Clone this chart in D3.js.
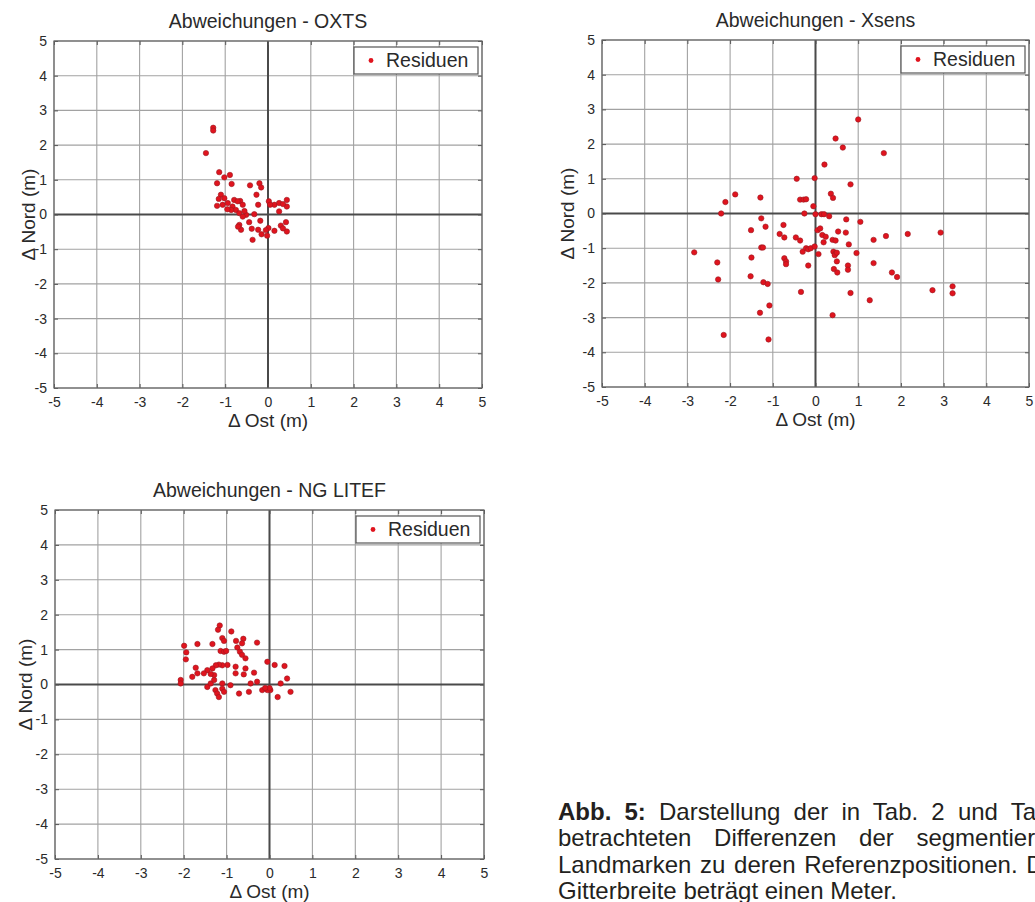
<!DOCTYPE html>
<html><head><meta charset="utf-8">
<script src="https://cdn.jsdelivr.net/npm/d3@7"></script>
<style>
html,body{margin:0;padding:0;background:#fff;}
svg{display:block;font-family:"Liberation Sans",Arial,Helvetica,sans-serif;}
</style></head>
<body>
<svg id="fig" width="1035" height="902"></svg>
<script>
// ---- data ----
const ticks = [-5,-4,-3,-2,-1,0,1,2,3,4,5];
const titles = ["Abweichungen - OXTS","Abweichungen - Xsens","Abweichungen - NG LITEF"];
const xLabel = "\u0394 Ost (m)";
const yLabel = "\u0394 Nord (m)";
const legendLabel = "Residuen";

const oxtsEast  = [-1.28,-1.28,-1.45,-1.14,-1.02,-0.89,-1.19,-0.85,-0.42,-0.20,-0.16,-0.27,-1.10,-1.02,-1.19,-1.06,-0.94,-0.83,-0.75,-0.65,-0.59,-0.67,-0.51,-0.44,-0.32,-0.23,0.02,0.15,0.26,0.44,0.44,0.26,-0.67,-0.63,-0.38,-0.18,-0.23,-0.36,-0.15,-0.02,0.01,0.15,0.30,0.42,0.44,-0.79,-0.71,-0.86,-0.59,0.05,-1.15,-0.95,-0.55,0.35,-0.70,0.35,-0.05];
const oxtsNorth = [2.50,2.42,1.77,1.22,1.07,1.14,0.90,0.88,0.84,0.90,0.78,0.57,0.57,0.47,0.25,0.28,0.33,0.23,0.13,0.39,0.28,0.04,-0.01,-0.22,0.01,0.28,0.38,0.28,0.33,0.42,0.23,0.09,-0.30,-0.44,-0.41,-0.18,-0.44,-0.73,-0.57,-0.61,-0.39,-0.47,-0.32,-0.22,-0.49,0.42,0.38,0.13,-0.06,0.28,0.45,0.15,0.10,0.30,-0.35,-0.40,-0.45];

const xsensEast  = [1.00,0.47,0.64,1.60,0.21,-0.44,-0.02,0.82,-1.88,-2.11,-1.29,-0.36,-0.28,-0.22,0.36,0.41,-0.05,-2.21,-0.26,0.00,0.14,0.20,0.32,-1.27,-1.17,-1.51,-0.75,-0.84,-0.73,-0.46,-0.36,0.05,0.11,0.16,0.24,0.19,0.40,0.47,0.53,0.71,0.72,1.05,1.36,1.65,2.16,2.93,-2.84,-2.30,-2.28,-1.50,-1.52,-1.27,-1.23,-0.73,-0.69,-0.69,-1.22,-1.12,-1.08,-1.30,-2.15,-1.10,-0.34,-0.17,-0.30,-0.22,-0.17,-0.11,-0.02,0.07,0.42,0.47,0.45,0.50,0.50,0.43,0.51,0.78,0.96,0.76,0.76,0.82,1.27,1.36,1.79,1.91,0.40,2.74,3.21,3.21];
const xsensNorth = [2.71,2.16,1.90,1.74,1.41,1.00,1.02,0.84,0.55,0.33,0.46,0.40,0.40,0.41,0.57,0.45,0.21,0.00,0.00,-0.02,-0.02,-0.02,-0.08,-0.14,-0.38,-0.48,-0.33,-0.59,-0.69,-0.69,-0.78,-0.48,-0.43,-0.62,-0.67,-0.83,-0.76,-0.78,-0.52,-0.55,-0.17,-0.24,-0.76,-0.65,-0.59,-0.55,-1.12,-1.41,-1.90,-1.27,-1.81,-0.98,-0.98,-1.29,-1.38,-1.46,-1.98,-2.03,-2.65,-2.86,-3.50,-3.63,-2.26,-1.50,-1.10,-1.00,-1.03,-1.00,-0.95,-1.17,-1.10,-1.15,-1.20,-1.13,-1.38,-1.60,-1.70,-0.89,-1.14,-1.50,-1.62,-2.29,-2.50,-1.43,-1.70,-1.83,-2.93,-2.21,-2.10,-2.30];

const litefEast  = [-1.16,-1.20,-0.89,-1.10,-1.06,-0.78,-0.61,-0.64,-0.29,-1.68,-1.33,-1.99,-1.94,-1.95,-1.14,-1.06,-1.01,-0.75,-0.69,-0.64,-0.56,-0.05,0.12,0.35,0.41,0.26,0.49,0.19,0.02,-0.05,-0.17,-0.29,-0.44,-0.48,-0.36,-0.56,-0.60,-0.79,-0.79,-0.71,-0.91,-0.98,-1.10,-1.18,-1.25,-1.33,-1.45,-1.53,-1.68,-1.72,-1.80,-2.07,-2.07,-1.45,-1.37,-1.29,-1.26,-1.22,-1.18,-1.10,-1.10,-1.06,-1.29,-1.37,0.00,-0.10];
const litefNorth = [1.69,1.57,1.52,1.33,1.25,1.25,1.31,1.18,1.20,1.16,1.16,1.11,0.92,0.72,0.96,0.94,0.96,1.06,0.94,0.85,0.75,0.65,0.56,0.53,0.17,0.03,-0.21,-0.36,-0.16,-0.16,-0.16,0.08,0.03,-0.21,0.34,0.46,0.29,0.51,0.32,-0.26,-0.02,0.56,0.55,0.57,0.55,0.46,0.41,0.32,0.32,0.48,0.22,0.13,0.03,-0.07,0.03,0.13,-0.16,-0.26,-0.36,0.03,-0.12,-0.21,0.27,0.30,-0.10,-0.10];

const captionLines = [
  ["Abb. 5:", " Darstellung der in Tab. 2 und Tab. 3"],
  ["", "betrachteten Differenzen der segmentierten"],
  ["", "Landmarken zu deren Referenzpositionen. Die"],
  ["", "Gitterbreite beträgt einen Meter."]
];

// ---- layout ----
const panels = [
  {east: oxtsEast,  north: oxtsNorth,  x0: 54,  x1: 482,  y0: 41,  y1: 388, ylab: 26},
  {east: xsensEast, north: xsensNorth, x0: 602, x1: 1029, y0: 40,  y1: 387, ylab: 35},
  {east: litefEast, north: litefNorth, x0: 55,  x1: 484,  y0: 510, y1: 859, ylab: 30}
];

const svg = d3.select("#fig");
const txt = "#2a2a2a";
const fmt = d => String(d);

panels.forEach((p, i) => {
  const x = d3.scaleLinear().domain([-5, 5]).range([p.x0, p.x1]);
  const y = d3.scaleLinear().domain([-5, 5]).range([p.y1, p.y0]);
  const g = svg.append("g");

  g.append("rect").attr("x", p.x0).attr("y", p.y0)
    .attr("width", p.x1 - p.x0).attr("height", p.y1 - p.y0).attr("fill", "#fff");

  // grid
  g.append("g").selectAll("line").data(ticks).join("line")
    .attr("x1", d => x(d)).attr("x2", d => x(d))
    .attr("y1", p.y0).attr("y2", p.y1)
    .attr("stroke", "#a2a2a2").attr("stroke-width", 1.1);
  g.append("g").selectAll("line").data(ticks).join("line")
    .attr("y1", d => y(d)).attr("y2", d => y(d))
    .attr("x1", p.x0).attr("x2", p.x1)
    .attr("stroke", "#a2a2a2").attr("stroke-width", 1.1);

  // zero axes
  g.append("line").attr("x1", x(0)).attr("x2", x(0)).attr("y1", p.y0).attr("y2", p.y1)
    .attr("stroke", "#4a4a4a").attr("stroke-width", 2);
  g.append("line").attr("y1", y(0)).attr("y2", y(0)).attr("x1", p.x0).attr("x2", p.x1)
    .attr("stroke", "#4a4a4a").attr("stroke-width", 2);

  // axes with inward ticks and labels
  const ax = g.append("g").attr("transform", `translate(0,${p.y1})`)
    .call(d3.axisBottom(x).tickValues(ticks).tickSize(-4).tickPadding(9).tickFormat(fmt));
  const axT = g.append("g").attr("transform", `translate(0,${p.y0})`)
    .call(d3.axisTop(x).tickValues(ticks).tickSize(-4).tickFormat(""));
  const ay = g.append("g").attr("transform", `translate(${p.x0},0)`)
    .call(d3.axisLeft(y).tickValues(ticks).tickSize(-4).tickPadding(7).tickFormat(fmt));
  const ayR = g.append("g").attr("transform", `translate(${p.x1},0)`)
    .call(d3.axisRight(y).tickValues(ticks).tickSize(-4).tickFormat(""));
  [ax, axT, ay, ayR].forEach(a => {
    a.select(".domain").remove();
    a.selectAll(".tick line").attr("stroke", "#555");
    a.selectAll("text").attr("font-size", 14).attr("fill", txt)
      .attr("font-family", "'Liberation Sans', Arial, sans-serif");
  });

  // frame
  g.append("rect").attr("x", p.x0).attr("y", p.y0)
    .attr("width", p.x1 - p.x0).attr("height", p.y1 - p.y0)
    .attr("fill", "none").attr("stroke", "#666").attr("stroke-width", 1.2);

  // points
  const pts = p.east.map((e, k) => [e, p.north[k]]);
  g.append("g").selectAll("circle").data(pts).join("circle")
    .attr("cx", d => x(d[0])).attr("cy", d => y(d[1])).attr("r", 2.7)
    .attr("fill", "#e0141e").attr("stroke", "#9a1a22").attr("stroke-width", 0.6);

  // title
  g.append("text").attr("x", (p.x0 + p.x1) / 2).attr("y", p.y0 - 13)
    .attr("text-anchor", "middle").attr("font-size", 19.5).attr("fill", txt)
    .text(titles[i]);

  // axis labels
  g.append("text").attr("x", (p.x0 + p.x1) / 2).attr("y", p.y1 + 39)
    .attr("text-anchor", "middle").attr("font-size", 19).attr("fill", txt)
    .text(xLabel);
  g.append("text")
    .attr("transform", `translate(${p.x0 - p.ylab},${(p.y0 + p.y1) / 2}) rotate(-90)`)
    .attr("text-anchor", "middle").attr("dy", "0.35em").attr("font-size", 19).attr("fill", txt)
    .text(yLabel);

  // legend
  const lw = 124, lh = 27;
  const lx = p.x1 - 4 - lw, ly = p.y0 + 6;
  g.append("rect").attr("x", lx).attr("y", ly).attr("width", lw).attr("height", lh)
    .attr("fill", "#fff").attr("stroke", "#555").attr("stroke-width", 1.2);
  g.append("circle").attr("cx", lx + 17).attr("cy", ly + lh / 2).attr("r", 2.4)
    .attr("fill", "#e0141e");
  g.append("text").attr("x", lx + 32).attr("y", ly + lh / 2).attr("dy", "0.35em")
    .attr("font-size", 19.5).attr("fill", txt).text(legendLabel);
});

// caption
const capX = 558, capY = [820, 846, 873, 899], capSpacing = [6.5, 16, 2, 0];
captionLines.forEach((ln, i) => {
  const t = svg.append("text").attr("x", capX).attr("y", capY[i])
    .attr("font-size", 24).attr("fill", "#231f20").attr("word-spacing", capSpacing[i]);
  if (ln[0]) t.append("tspan").attr("font-weight", "bold").text(ln[0]);
  t.append("tspan").text(ln[1]);
});
</script>
</body></html>
